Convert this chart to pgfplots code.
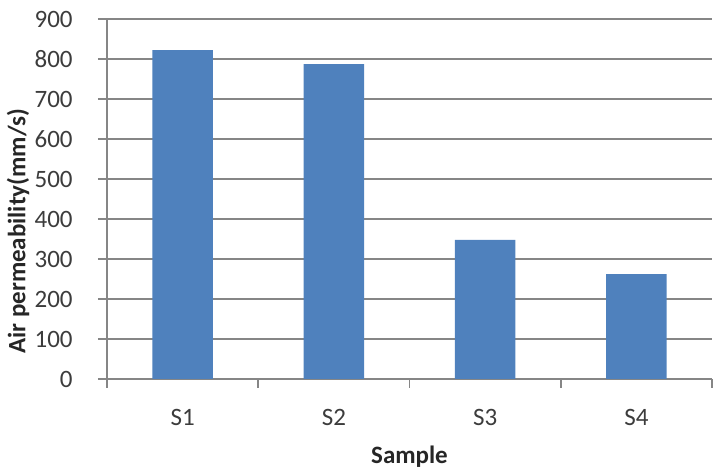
\documentclass[border=0pt]{standalone}
\usepackage{pgfplots}
\pgfplotsset{compat=1.18}
\usepackage{fontspec}
\setmainfont{Carlito}
\definecolor{barblue}{RGB}{79,129,189}
\definecolor{gridgray}{RGB}{134,134,134}
\definecolor{labelgray}{RGB}{60,60,60}

\begin{document}
\begin{tikzpicture}
% page = 720x475 px at 0.5pt per px
\useasboundingbox (-53.5pt,-48pt) rectangle (306.5pt,189.5pt);
\begin{axis}[
  name=ax, at={(0,0)}, anchor=south west,
  scale only axis, width=302.5pt, height=180pt,
  ybar, bar width=0.4,
  xmin=-0.5, xmax=3.5, ymin=0, ymax=900,
  ytick={0,100,...,900},
  xtick={-0.5,0.5,1.5,2.5,3.5}, xticklabels={},
  extra x ticks={0,1,2,3}, extra x tick labels={S1,S2,S3,S4},
  extra x tick style={major tick length=0pt},
  axis lines=left,
  axis line style={-, draw=gridgray, line width=0.85pt},
  ymajorgrids, grid style={draw=gridgray, line width=0.85pt},
  tick align=outside, major tick length=4.5pt,
  tick style={draw=gridgray, line width=0.85pt},
  font=\fontsize{12.5}{15}\selectfont,
  tick label style={text=labelgray},
  /pgf/number format/assume math mode=true,
  yticklabel style={anchor=east, inner sep=0pt, xshift=-12.5pt},
  xticklabel style={anchor=center, yshift=-19pt},
  xlabel={\textbf{Sample}},
  ylabel={\textbf{Air permeability(mm/s)}},
  xlabel style={at={(axis description cs:0.5,-0.2167)}, anchor=center, text=black!85},
  ylabel style={at={(axis description cs:-0.147,0.41)}, anchor=center, text=black!85},
]
\addplot[fill=barblue, draw=none] coordinates {(0,822) (1,787) (2,348) (3,262)};
\end{axis}
\end{tikzpicture}
\end{document}
